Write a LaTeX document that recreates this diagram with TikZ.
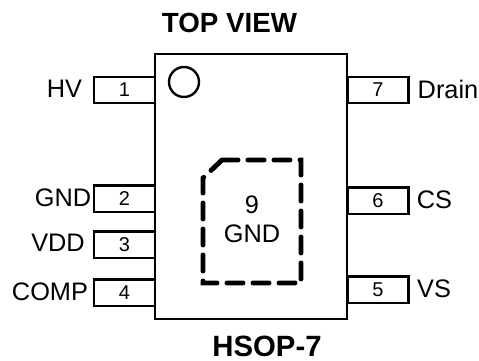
\documentclass[tikz,border=0pt]{standalone}
\usepackage{fontspec}
\setmainfont{Liberation Sans}
\tikzset{
  pxunits/.style={x=0.75pt,y=-0.75pt},
  pinbox/.style={draw=black,line width=1.8pt,fill=white,minimum width=45.5pt,minimum height=19.8pt,inner sep=0pt,font=\fontsize{15}{17}\selectfont},
  pinlabel/.style={inner sep=0pt,font=\fontsize{19}{21}\selectfont},
  titletext/.style={inner sep=0pt,font=\bfseries\fontsize{20.8}{23}\selectfont},
  hsoptext/.style={inner sep=0pt,font=\bfseries\fontsize{22}{24}\selectfont},
  padtext/.style={inner sep=0pt,font=\fontsize{19}{21}\selectfont},
  padline/.style={line width=3.7pt,line cap=round,dash pattern=on 12pt off 7.5pt}
}
\begin{document}
\begin{tikzpicture}[pxunits]
\useasboundingbox (0,0) rectangle (479,361);
\node[pinbox] (p1) at (124.5,90) {1};
\node[pinbox] (p2) at (124.5,198.5) {2};
\node[pinbox] (p3) at (124.5,244.5) {3};
\node[pinbox] (p4) at (124.5,292.5) {4};
\node[pinbox] (p7) at (378,90) {7};
\node[pinbox] (p6) at (378,200.5) {6};
\node[pinbox] (p5) at (378,289.5) {5};
\node[draw=black,line width=1.8pt,minimum width=144pt,minimum height=199pt,inner sep=0pt] (body) at (251,186.5) {};
\node[draw=black,line width=1.8pt,circle,minimum size=22.5pt,inner sep=0pt] (dot) at (184,82) {};
\draw[padline] (222,160) -- (301,160) -- (301,283) -- (203,283) -- (203,178) -- cycle;
\node[padtext] (n9) at (252,205) {9};
\node[padtext] (ng) at (252,234) {GND};
\node[titletext] (top) at (229.5,23) {TOP VIEW};
\node[hsoptext] (hsop) at (267,346) {HSOP-7};
\node[pinlabel] (lhv) at (64.5,89) {HV};
\node[pinlabel] (lgnd) at (63,198) {GND};
\node[pinlabel] (lvdd) at (58,243) {VDD};
\node[pinlabel] (lcomp) at (50,292) {COMP};
\node[pinlabel] (ldrain) at (448,89) {Drain};
\node[pinlabel] (lcs) at (434.5,200) {CS};
\node[pinlabel] (lvs) at (434,289) {VS};
\end{tikzpicture}
\end{document}
